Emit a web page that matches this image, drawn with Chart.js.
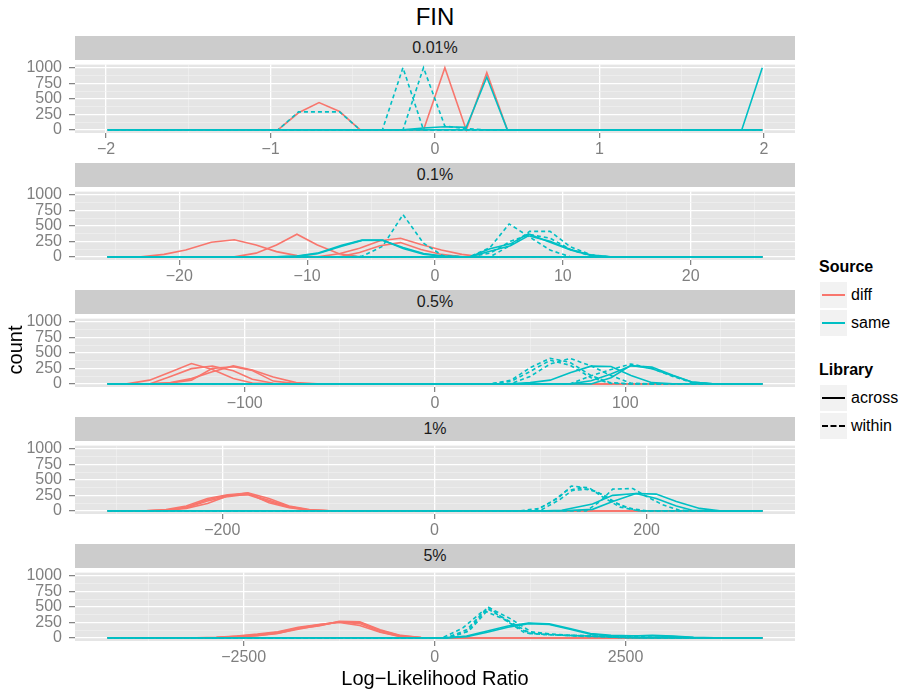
<!DOCTYPE html>
<html>
<head>
<meta charset="utf-8">
<script src="https://cdn.jsdelivr.net/npm/chart.js@4.4.1/dist/chart.umd.min.js"></script>
<style>
  body { margin:0; background:#fff; }
  #root { position:relative; width:899px; height:691px; font-family:"Liberation Sans", Arial, Helvetica, sans-serif; overflow:hidden; }
  .abs { position:absolute; }
  .strip { position:absolute; left:75px; width:720px; height:24px; background:#CCCCCC; color:#1A1A1A; font-size:16px; line-height:24px; text-align:center; }
  .key { position:absolute; left:820px; width:27px; height:26px; background:#F2F2F2; }
  .key div { position:absolute; left:2px; width:23px; top:12px; }
  .lab { position:absolute; left:851px; font-size:16px; line-height:20px; color:#000; }
  .ltitle { position:absolute; left:819px; font-size:16px; font-weight:bold; line-height:20px; color:#000; }
</style>
</head>
<body>
<div id="root"></div>
<script>
// ---------- DATA ----------
const STRIPS = ["0.01%", "0.1%", "0.5%", "1%", "5%"];
// data range of each panel (where the polygons start and end)
const X_LIMITS = [[-1.99, 1.99], [-25.6, 25.6], [-172, 172], [-308, 309], [-4280, 4290]];
const X_MAJOR = [[-2, -1, 0, 1, 2], [-20, -10, 0, 10, 20], [-100, 0, 100], [-200, 0, 200], [-2500, 0, 2500]];
const X_MINOR = [[-1.5, -0.5, 0.5, 1.5], [-25, -15, -5, 5, 15, 25], [-150, -50, 50, 150], [-300, -100, 100, 300], [-3750, -1250, 1250, 3750]];
const Y_MAJOR = [0, 250, 500, 750, 1000];
const Y_MINOR = [125, 375, 625, 875];

// 0.01%
const P1_DIFF_ACROSS = [
  [[-0.955,0],[-0.83,275],[-0.705,440],[-0.58,295],[-0.455,0],[-0.07,0],[0.06,1000],[0.19,0],[0.315,920],[0.44,0]]
];
const P1_SAME_ACROSS = [
  [[-0.195,0],[-0.07,30],[0.06,50],[0.19,40],[0.315,850],[0.44,0]],
  [[1.865,0],[1.99,1000]]
];
const P1_SAME_WITHIN = [
  [[-0.955,0],[-0.83,290],[-0.705,290],[-0.58,290],[-0.455,0]],
  [[-0.32,0],[-0.195,1000],[-0.07,0]],
  [[-0.195,0],[-0.07,1000],[0.06,60],[0.19,20],[0.315,0]]
];
// 0.1%
const P2_DIFF_ACROSS = [
  [[-23,0],[-21.2,40],[-19.5,110],[-17.5,235],[-15.7,275],[-14,190],[-12.4,85],[-10.8,20],[-9.2,0]],
  [[-15.7,0],[-14,60],[-12.4,190],[-10.8,365],[-9.2,190],[-7.5,50],[-5.9,0]],
  [[-9.2,0],[-7.5,50],[-5.9,140],[-4.3,260],[-2.7,300],[-1.1,200],[0.5,110],[2.1,40],[3.7,0]],
  [[-7.5,0],[-5.9,70],[-4.3,180],[-2.7,230],[-1.1,120],[0.5,40],[2.1,0]]
];
const P2_SAME_ACROSS = [
  [[-12.4,0],[-10.8,15],[-9.2,60],[-7.3,185],[-5.7,270],[-4.1,270],[-2.5,135],[-0.9,45],[0.6,10],[2.2,0]],
  [[-12.4,0],[-10.8,10],[-9.2,50],[-7.3,170],[-5.7,265],[-4.1,265],[-2.5,150],[-0.9,55],[0.6,15],[2.2,0]],
  [[2.7,0],[4.3,130],[5.9,210],[7.3,370],[9.0,235],[10.6,110],[12.2,25],[13.7,0]],
  [[2.7,0],[4.3,90],[5.9,180],[7.3,340],[9.0,250],[10.6,120],[12.2,30],[13.7,0]]
];
const P2_SAME_WITHIN = [
  [[-7.3,0],[-5.7,10],[-4.1,170],[-2.5,680],[-0.9,220],[0.6,20],[2.2,0]],
  [[2.7,0],[4.3,150],[5.8,530],[7.4,320],[9.0,110],[10.6,0]],
  [[4.3,0],[5.9,185],[7.4,410],[9.0,410],[10.6,160],[12.2,35],[13.7,0]],
  [[2.7,0],[4.3,60],[5.9,250],[7.4,360],[9.0,300],[10.6,120],[12.2,10],[13.7,0]]
];
// 0.5%
const P3_DIFF_ACROSS = [
  [[-162,0],[-150,60],[-139,190],[-128,327],[-117,230],[-106,85],[-96,15],[-85,0]],
  [[-150,0],[-139,120],[-128,245],[-117,287],[-106,210],[-96,75],[-85,10],[-73,0]],
  [[-150,0],[-139,20],[-128,85],[-117,195],[-106,290],[-96,225],[-85,110],[-73,20],[-62,0]],
  [[-150,0],[-139,15],[-128,60],[-117,250],[-106,275],[-96,215],[-85,45],[-73,5],[-62,0]]
];
const P3_SAME_ACROSS = [
  [[39.5,0],[50,20],[60.5,60],[71,180],[82,285],[92.5,280],[103,135],[114,20],[125,0]],
  [[71,0],[82,50],[92.5,160],[103,290],[114,270],[125,140],[135,30],[146,0]],
  [[82,0],[92.5,100],[103,300],[114,245],[125,130],[135,30],[146,0]]
];
const P3_SAME_WITHIN = [
  [[29,0],[40,60],[50,260],[60.5,412],[71,345],[82,135],[92,20],[103,0]],
  [[39.5,0],[50,120],[60.5,320],[71,410],[82,290],[92,140],[103,10],[114,0]],
  [[71,0],[82,130],[92.5,230],[103,320],[114,250],[125,120],[135,20],[146,0]],
  [[29,0],[40,40],[50,200],[60.5,380],[71,300],[82,100],[92,10],[103,0]]
];
// 1%
const P4_DIFF_ACROSS = [
  [[-272,0],[-253,15],[-234,50],[-214,160],[-195,230],[-176,270],[-156,170],[-137,70],[-118,15],[-99,0]],
  [[-272,0],[-253,20],[-234,80],[-214,200],[-195,260],[-176,285],[-156,130],[-137,50],[-118,10],[-99,0]],
  [[-272,0],[-253,10],[-234,40],[-214,120],[-195,240],[-176,290],[-156,200],[-137,80],[-118,20],[-99,0]],
  [[-253,0],[-234,60],[-214,180],[-195,250],[-176,260],[-156,150],[-137,60],[-118,10],[-99,0]]
];
const P4_SAME_ACROSS = [
  [[105,0],[120,10],[149,110],[168,250],[190,280],[209,200],[228,80],[243,10],[260,0]],
  [[120,0],[149,25],[168,150],[190,280],[209,270],[228,150],[250,40],[269,0]]
];
const P4_SAME_WITHIN = [
  [[80,0],[99,40],[118,225],[129,400],[146,370],[159,220],[175,60],[193,0]],
  [[94,0],[111,150],[124,320],[137,370],[153,310],[168,150],[184,40],[200,0]],
  [[143,0],[156,150],[168,350],[187,360],[200,230],[215,100],[231,10],[245,0]],
  [[99,0],[118,180],[130,330],[146,350],[160,250],[176,80],[193,0]]
];
// 5%
const P5_DIFF_ACROSS = [
  [[-3125,0],[-2857,5],[-2589,25],[-2321,50],[-2053,90],[-1785,160],[-1517,210],[-1249,260],[-981,250],[-713,120],[-445,35],[-177,5],[91,0]],
  [[-3125,0],[-2857,5],[-2589,20],[-2321,40],[-2053,75],[-1785,140],[-1517,200],[-1249,255],[-981,230],[-713,100],[-445,25],[-177,0]],
  [[-3125,0],[-2857,10],[-2589,30],[-2321,60],[-2053,100],[-1785,170],[-1517,215],[-1249,250],[-981,200],[-713,90],[-445,20],[-177,0]],
  [[-2857,0],[-2589,15],[-2321,35],[-2053,70],[-1785,150],[-1517,190],[-1249,265],[-981,260],[-713,130],[-445,40],[-177,5],[91,0]]
];
const P5_SAME_ACROSS = [
  [[150,0],[420,30],[690,110],[960,190],[1230,240],[1500,225],[1770,150],[2040,70],[2310,40],[2580,35],[2850,35],[3120,20],[3390,5],[3660,0]],
  [[150,0],[420,20],[690,90],[960,170],[1230,230],[1500,215],[1770,140],[2040,60],[2310,30],[2580,30],[2850,40],[3120,30],[3390,10],[3660,0]]
];
const P5_SAME_WITHIN = [
  [[150,0],[420,130],[700,500],[970,250],[1240,70],[1510,50],[1780,40],[2050,30],[2320,25],[2590,20],[2860,10],[3130,0]],
  [[150,0],[420,100],[690,470],[960,280],[1230,90],[1500,60],[1770,45],[2040,35],[2310,20],[2580,10],[2850,0]],
  [[100,0],[370,160],[640,440],[910,300],[1180,80],[1450,55],[1720,40],[1990,30],[2260,15],[2530,0]],
  [[180,0],[450,110],[720,480],[990,310],[1260,100],[1530,60],[1800,30],[2070,20],[2340,10],[2610,0]]
];

const PANELS = [
  { diffAcross:P1_DIFF_ACROSS, sameAcross:P1_SAME_ACROSS, sameWithin:P1_SAME_WITHIN },
  { diffAcross:P2_DIFF_ACROSS, sameAcross:P2_SAME_ACROSS, sameWithin:P2_SAME_WITHIN },
  { diffAcross:P3_DIFF_ACROSS, sameAcross:P3_SAME_ACROSS, sameWithin:P3_SAME_WITHIN },
  { diffAcross:P4_DIFF_ACROSS, sameAcross:P4_SAME_ACROSS, sameWithin:P4_SAME_WITHIN },
  { diffAcross:P5_DIFF_ACROSS, sameAcross:P5_SAME_ACROSS, sameWithin:P5_SAME_WITHIN }
];

// ---------- LAYOUT ----------
const PLOT_TOP = [60, 187, 314, 441, 568];
const PLOT_H = 73, PAD_TOP = 12, XAXIS_H = 30;
const RED = '#F8766D', CYAN = '#00BFC4', GREY = '#7F7F7F';
const FONT = '"Liberation Sans", Arial, Helvetica, sans-serif';
const root = document.getElementById('root');

function el(cls, css, text) {
  const d = document.createElement('div');
  if (cls) d.className = cls;
  Object.assign(d.style, css);
  if (text != null) d.textContent = text;
  root.appendChild(d);
  return d;
}

// a group's polygon runs flat at zero out to both ends of the panel
function pad(pts, lim) {
  const out = pts.slice();
  if (!out.length || out[0][0] > lim[0]) out.unshift([lim[0], 0]);
  if (out[out.length - 1][0] < lim[1]) out.push([lim[1], 0]);
  return out;
}
const fmt = v => String(v).replace('-', '\u2212');

const panelBg = {
  id: 'panelBg',
  beforeDraw(chart) {
    const a = chart.chartArea, c = chart.ctx;
    c.save(); c.fillStyle = '#E5E5E5';
    c.fillRect(a.left, a.top, a.right - a.left, a.bottom - a.top);
    c.restore();
  }
};

function gridOpts(major, tickLen) {
  const isMaj = ctx => ctx.tick && major.includes(ctx.tick.value);
  return {
    color: ctx => isMaj(ctx) ? '#FFFFFF' : '#F2F2F2',
    lineWidth: ctx => isMaj(ctx) ? 1.3 : 0.6,
    tickColor: ctx => isMaj(ctx) ? GREY : 'rgba(0,0,0,0)',
    tickWidth: 1.2,
    tickLength: tickLen
  };
}

function makePanel(i) {
  const p = PANELS[i], lim = X_LIMITS[i];
  const span = lim[1] - lim[0];
  const xmin = lim[0] - span * 0.05, xmax = lim[1] + span * 0.05;

  const wrap = el('abs', { left:'0px', top:(PLOT_TOP[i] - PAD_TOP) + 'px', width:'800px', height:(PAD_TOP + PLOT_H + XAXIS_H) + 'px' });
  const canvas = document.createElement('canvas');
  canvas.width = 800; canvas.height = PAD_TOP + PLOT_H + XAXIS_H;
  wrap.appendChild(canvas);

  // Chart.js paints the first dataset on top, so cyan groups go first
  const ds = [];
  const add = (list, color, dash) => list.forEach(s => ds.push({
    data: pad(s, lim), borderColor: color, borderWidth: 1.6, borderDash: dash,
    pointRadius: 0, fill: false, tension: 0
  }));
  add(p.sameWithin, CYAN, [4, 3]);
  add(p.sameAcross, CYAN, []);
  add([[]], RED, [4, 3]);          // diff / within stays at zero
  add(p.diffAcross, RED, []);

  const xTicks = X_MAJOR[i].concat(X_MINOR[i]).sort((a, b) => a - b);
  const yTicks = Y_MAJOR.concat(Y_MINOR).sort((a, b) => a - b);

  new Chart(canvas, {
    type: 'line',
    data: { datasets: ds },
    options: {
      responsive: false, animation: false,
      layout: { padding: { top: PAD_TOP, right: 5, left: 0, bottom: 0 } },
      plugins: { legend: { display: false }, tooltip: { enabled: false } },
      scales: {
        x: {
          type: 'linear', min: xmin, max: xmax,
          afterBuildTicks: s => { s.ticks = xTicks.map(v => ({ value: v })); },
          afterFit: s => { s.height = XAXIS_H; },
          ticks: { autoSkip: false, maxRotation: 0, color: GREY, padding: 2,
                   font: { size: 16, family: FONT },
                   callback: v => X_MAJOR[i].includes(v) ? fmt(v) : '' },
          grid: gridOpts(X_MAJOR[i], 5),
          border: { display: false }
        },
        y: {
          min: -50, max: 1050,
          afterBuildTicks: s => { s.ticks = yTicks.map(v => ({ value: v })); },
          afterFit: s => { s.width = 75; },
          ticks: { autoSkip: false, color: GREY, padding: 7,
                   font: { size: 16, family: FONT },
                   callback: v => Y_MAJOR.includes(v) ? String(v) : '' },
          grid: gridOpts(Y_MAJOR, 6),
          border: { display: false }
        }
      }
    },
    plugins: [panelBg]
  });

  el('strip', { top: (PLOT_TOP[i] - 24) + 'px' }, STRIPS[i]);
}

for (let i = 0; i < PANELS.length; i++) makePanel(i);

// ---------- TITLES ----------
el('abs', { left:'335px', width:'200px', top:'3px', textAlign:'center', fontSize:'24px', lineHeight:'28px', color:'#000' }, 'FIN');
el('abs', { left:'285px', width:'300px', top:'666px', textAlign:'center', fontSize:'20px', lineHeight:'24px', color:'#000' }, 'Log\u2212Likelihood Ratio');
el('abs', { left:'-35px', width:'100px', top:'338px', textAlign:'center', fontSize:'20px', lineHeight:'24px', color:'#000', transform:'rotate(-90deg)' }, 'count');

// ---------- LEGEND ----------
el('ltitle', { top:'257px' }, 'Source');
[['diff', RED, 282], ['same', CYAN, 310]].forEach(([t, c, y]) => {
  const k = el('key', { top: y + 'px' });
  const ln = document.createElement('div');
  Object.assign(ln.style, { height:'2px', background:c, top:'12px' });
  k.appendChild(ln);
  el('lab', { top: (y + 3) + 'px' }, t);
});
el('ltitle', { top:'360px' }, 'Library');
[['across', false, 385], ['within', true, 413]].forEach(([t, dashed, y]) => {
  const k = el('key', { top: y + 'px' });
  const ln = document.createElement('div');
  if (dashed) Object.assign(ln.style, { height:'0px', borderTop:'2px dashed #000' });
  else Object.assign(ln.style, { height:'2px', background:'#000' });
  k.appendChild(ln);
  el('lab', { top: (y + 3) + 'px' }, t);
});
</script>
</body>
</html>
